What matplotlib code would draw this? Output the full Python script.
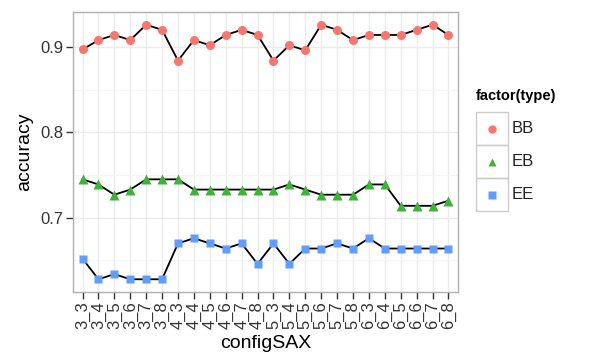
import matplotlib.pyplot as plt
from matplotlib.lines import Line2D
from matplotlib.patches import Rectangle

plt.rcParams["font.family"] = ["Liberation Sans", "DejaVu Sans"]

# ---------------------------------------------------------------------------
# Data
# ---------------------------------------------------------------------------
configs = [
    "3_3", "3_4", "3_5", "3_6", "3_7", "3_8",
    "4_3", "4_4", "4_5", "4_6", "4_7", "4_8",
    "5_3", "5_4", "5_5", "5_6", "5_7", "5_8",
    "6_3", "6_4", "6_5", "6_6", "6_7", "6_8",
]
acc_bb = [0.897, 0.908, 0.914, 0.908, 0.926, 0.920, 0.884, 0.908, 0.902, 0.914, 0.920, 0.914,
          0.884, 0.902, 0.896, 0.926, 0.920, 0.908, 0.914, 0.914, 0.914, 0.920, 0.926, 0.914]
acc_eb = [0.745, 0.739, 0.727, 0.733, 0.745, 0.745, 0.745, 0.733, 0.733, 0.733, 0.733, 0.733,
          0.733, 0.739, 0.733, 0.727, 0.727, 0.727, 0.739, 0.739, 0.714, 0.714, 0.714, 0.720]
acc_ee = [0.652, 0.628, 0.634, 0.628, 0.628, 0.628, 0.670, 0.676, 0.670, 0.664, 0.670, 0.646,
          0.670, 0.646, 0.664, 0.664, 0.670, 0.664, 0.676, 0.664, 0.664, 0.664, 0.664, 0.664]
types = ["BB", "EB", "EE"]
colors = ["#F8766D", "#3FB337", "#619CFF"]
markers = ["o", "^", "s"]
sizes = [6.5, 7.5, 6.0]

# ---------------------------------------------------------------------------
# Plot
# ---------------------------------------------------------------------------
fig = plt.figure(figsize=(5.92, 3.61), dpi=100)
ax = fig.add_axes([73 / 592, 1 - 292 / 361, 385 / 592, 280 / 361])

x = list(range(len(configs)))
for vals, col, mk, ms in zip([acc_bb, acc_eb, acc_ee], colors, markers, sizes):
    ax.plot(x, vals, color="black", lw=1.3, zorder=2)
    ax.plot(x, vals, ls="none", marker=mk, color=col, ms=ms, mec="none", zorder=3)

lo = min(acc_ee)
hi = max(acc_bb)
pad = (hi - lo) * 0.05
ax.set_ylim(lo - pad, hi + pad)
ax.set_xlim(-0.6, len(configs) - 0.4)

ax.set_yticks([0.7, 0.8, 0.9])
ax.set_yticks([0.65, 0.75, 0.85], minor=True)
ax.set_yticklabels(["0.7", "0.8", "0.9"])
ax.set_xticks(x)
ax.set_xticklabels(configs, rotation=90)

ax.grid(True, which="major", color="#EBEBEB", lw=1.0, zorder=0)
ax.grid(True, which="minor", axis="y", color="#F5F5F5", lw=0.8, zorder=0)
ax.set_axisbelow(True)
for sp in ax.spines.values():
    sp.set_color("#B0B0B0")
    sp.set_linewidth(1.0)

ax.tick_params(axis="both", which="major", length=5, width=1.0, color="#333333",
               labelsize=12, labelcolor="#333333", pad=2)
ax.tick_params(axis="y", which="minor", length=0)

ax.set_ylabel("accuracy", fontsize=14, labelpad=5)
ax.set_xlabel("configSAX", fontsize=14, labelpad=4)

# legend, drawn by hand in ggplot style
fig.text(476 / 592, 1 - 96 / 361, "factor(type)", fontsize=10.5, fontweight="bold",
         va="center", ha="left")
key_h = 33
for i, (lab, col, mk) in enumerate(zip(types, colors, markers)):
    top = 112 + i * key_h
    fig.patches.append(Rectangle((476 / 592, 1 - (top + key_h) / 361), 32 / 592, key_h / 361,
                                 transform=fig.transFigure, fill=False,
                                 edgecolor="#CCCCCC", lw=1.0))
    cy = 1 - (top + key_h / 2) / 361
    fig.lines.append(Line2D([492 / 592], [cy], transform=fig.transFigure, marker=mk,
                            color=col, ms=6, mec="none", ls="none"))
    fig.text(512 / 592, cy, lab, fontsize=12, va="center", ha="left", color="#222222")

fig.savefig("out.png", dpi=100)
